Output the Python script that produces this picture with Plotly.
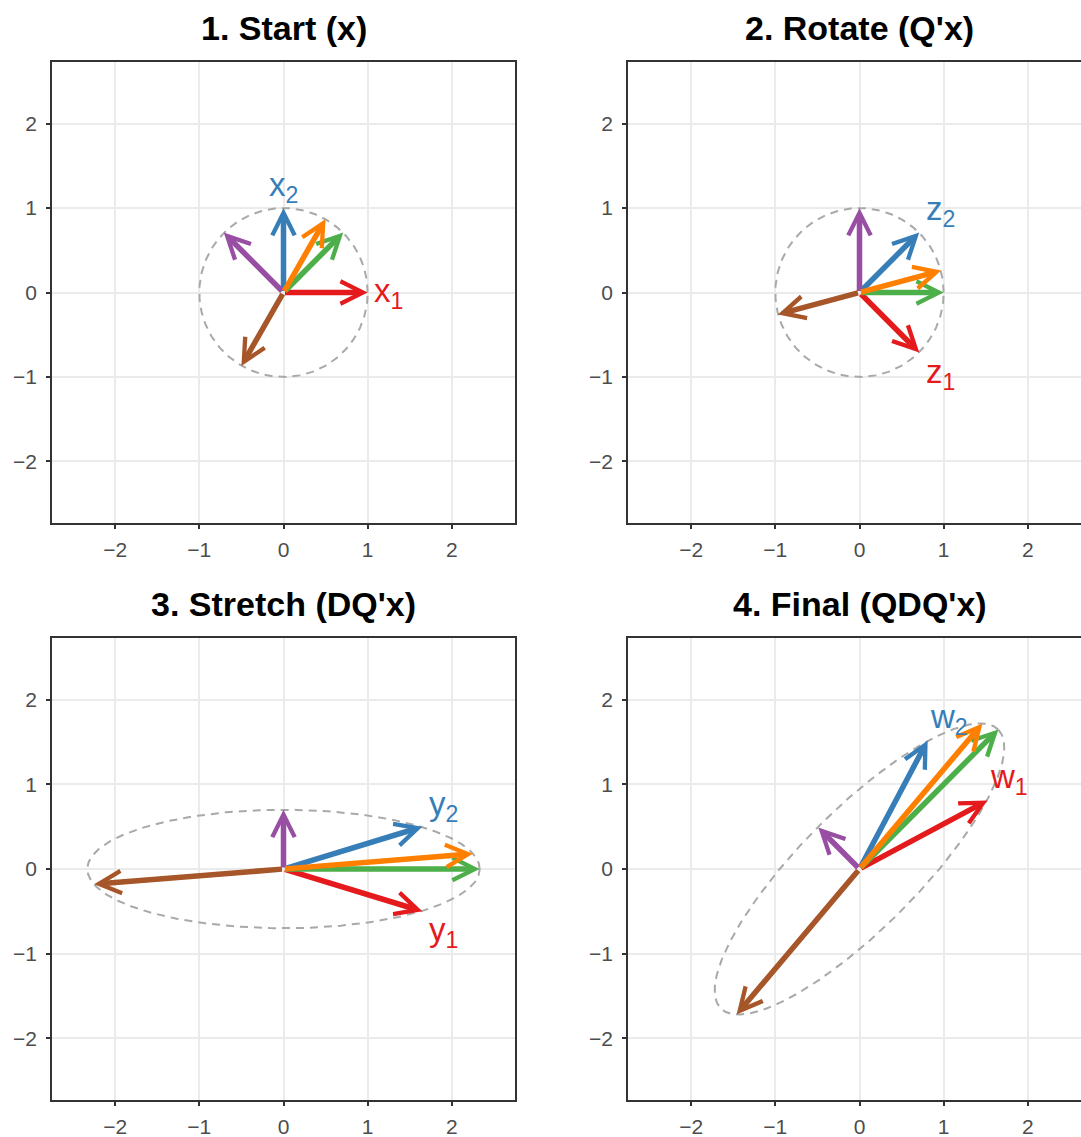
import numpy as np
import plotly.graph_objects as go

# ---------------- data ----------------
panel_titles = ["1. Start (x)", "2. Rotate (Q'x)", "3. Stretch (DQ'x)", "4. Final (QDQ'x)"]
vector_names = ["v1", "v2", "green", "purple", "brown", "orange"]
vector_colors = ["#E41A1C", "#377EB8", "#4DAF4A", "#984EA3", "#A65628", "#FF7F00"]

# end points of each vector (x, y) per panel, order as vector_names
p1_x = [1.00, 0.00, 0.71, -0.71, -0.50, 0.50]
p1_y = [0.00, 1.00, 0.71, 0.71, -0.87, 0.87]
p2_x = [0.71, 0.71, 1.00, 0.00, -0.97, 0.97]
p2_y = [-0.71, 0.71, 0.00, 1.00, -0.26, 0.26]
p3_x = [1.65, 1.65, 2.33, 0.00, -2.25, 2.25]
p3_y = [-0.50, 0.50, 0.00, 0.70, -0.18, 0.18]
p4_x = [1.52, 0.81, 1.65, -0.49, -1.46, 1.46]
p4_y = [0.81, 1.52, 1.65, 0.49, -1.72, 1.72]

# labels of the two basis vectors per panel
label_letters = ["x", "z", "y", "w"]

# dashed ellipse per panel: semi-axes and rotation (degrees)
ell_a = [1.0, 1.0, 2.33, 2.33]
ell_b = [1.0, 1.0, 0.70, 0.70]
ell_angle = [0, 0, 0, 45]

tick_vals = [-2, -1, 0, 1, 2]
tick_text = ["\u22122", "\u22121", "0", "1", "2"]

# ---------------- layout geometry ----------------
W, H = 1081, 1137
px_per_unit = 463 / 5.5
col_x = [(52, 515), (628, 1081)]
row_y = [(62, 523), (638, 1100)]

fig = go.Figure()
FONT = "Liberation Sans, Arial, Helvetica, sans-serif"

panels = [(p1_x, p1_y), (p2_x, p2_y), (p3_x, p3_y), (p4_x, p4_y)]
theta = np.linspace(0, 2 * np.pi, 361)

annotations = []
for i, (vx, vy) in enumerate(panels):
    r, c = divmod(i, 2)
    ax_id = "" if i == 0 else str(i + 1)
    xref, yref = "x" + ax_id, "y" + ax_id
    x0p, x1p = col_x[c]
    y0p, y1p = row_y[r]
    xr = [-2.75, -2.75 + (x1p - x0p) / px_per_unit]
    xaxis = dict(
        domain=[x0p / W, x1p / W], range=xr, anchor=yref,
        tickvals=tick_vals, ticktext=tick_text,
        showgrid=True, gridcolor="#EBEBEB", gridwidth=1.6, zeroline=False,
        showline=True, linecolor="#333333", linewidth=1.5, mirror=True,
        ticks="outside", ticklen=4, tickwidth=1.5, tickcolor="#333333",
        tickfont=dict(size=21, color="#4D4D4D", family=FONT),
        ticklabelstandoff=3, fixedrange=True,
    )
    yaxis = dict(
        domain=[1 - y1p / H, 1 - y0p / H], range=[-2.73, 2.73], anchor=xref,
        tickvals=tick_vals, ticktext=tick_text,
        showgrid=True, gridcolor="#EBEBEB", gridwidth=1.6, zeroline=False,
        showline=True, linecolor="#333333", linewidth=1.5, mirror=(c == 0),
        ticks="outside", ticklen=4, tickwidth=1.5, tickcolor="#333333",
        tickfont=dict(size=21, color="#4D4D4D", family=FONT),
        ticklabelstandoff=5, fixedrange=True,
    )
    fig.update_layout(**{"xaxis" + ax_id: xaxis, "yaxis" + ax_id: yaxis})

    # dashed ellipse
    a, b, ang = ell_a[i], ell_b[i], np.deg2rad(ell_angle[i])
    ex = a * np.cos(theta) * np.cos(ang) - b * np.sin(theta) * np.sin(ang)
    ey = a * np.cos(theta) * np.sin(ang) + b * np.sin(theta) * np.cos(ang)
    fig.add_trace(go.Scatter(
        x=ex, y=ey, mode="lines", xaxis=xref, yaxis=yref,
        line=dict(color="#A9A9A9", width=2, dash="8px,6px"),
        hoverinfo="skip", showlegend=False,
    ))

    # arrows
    for k in range(len(vx)):
        annotations.append(dict(
            x=vx[k], y=vy[k], ax=0, ay=0, xref=xref, yref=yref,
            axref=xref, ayref=yref, text="", showarrow=True,
            arrowhead=5, arrowsize=0.8, arrowwidth=5.5,
            arrowcolor=vector_colors[k], standoff=0, startstandoff=0,
        ))
    # labels for basis vectors
    for k in range(2):
        lx = vx[k] + (0.25 * np.sign(vx[k]) if abs(vx[k]) > 0.05 else 0)
        ly = vy[k] + (0.25 * np.sign(vy[k]) if abs(vy[k]) > 0.05 else 0)
        annotations.append(dict(
            x=lx, y=ly, xref=xref, yref=yref, showarrow=False,
            text=f"{label_letters[i]}<sub>{k + 1}</sub>",
            font=dict(size=33, color=vector_colors[k], family=FONT),
            xanchor="center", yanchor="middle",
        ))
    # panel title
    annotations.append(dict(
        x=((x0p + (x0p + 5.5 * px_per_unit)) / 2) / W,
        y=1 - (y0p - 34) / H, xref="paper", yref="paper",
        showarrow=False, text=f"<b>{panel_titles[i]}</b>",
        font=dict(size=34, color="#000000", family=FONT),
        xanchor="center", yanchor="middle",
    ))

fig.update_layout(
    width=W, height=H, margin=dict(l=0, r=0, t=0, b=0),
    paper_bgcolor="white", plot_bgcolor="white",
    annotations=annotations, showlegend=False,
    font=dict(family=FONT),
)

fig.write_html("out.html")
